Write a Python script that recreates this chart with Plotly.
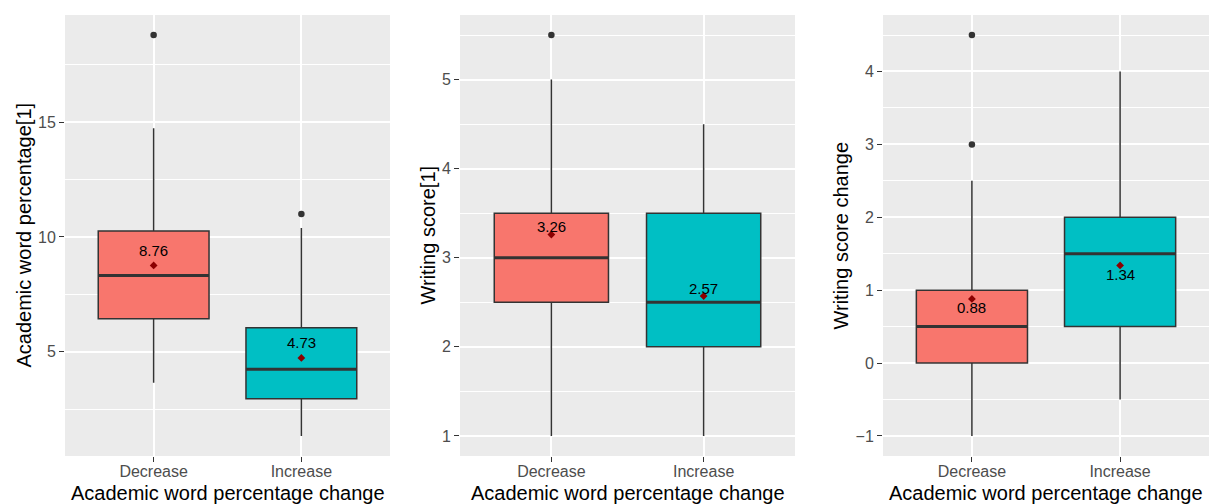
import plotly.graph_objects as go

# Groups on the x axis (shared by all three panels)
groups = ["Decrease", "Increase"]
fill_colors = ["#F8766D", "#00BFC4"]

# Panel 1: Academic word percentage[1]
awp_q1 = [6.44, 2.95]
awp_median = [8.32, 4.24]
awp_q3 = [10.26, 6.05]
awp_lower = [3.65, 1.33]
awp_upper = [14.74, 10.39]
awp_mean = [8.76, 4.73]
awp_outliers = [[18.8], [11.0]]

# Panel 2: Writing score[1]
ws_q1 = [2.5, 2.0]
ws_median = [3.0, 2.5]
ws_q3 = [3.5, 3.5]
ws_lower = [1.0, 1.0]
ws_upper = [5.0, 4.5]
ws_mean = [3.26, 2.57]
ws_outliers = [[5.5], []]

# Panel 3: Writing score change
wc_q1 = [0.0, 0.5]
wc_median = [0.5, 1.5]
wc_q3 = [1.0, 2.0]
wc_lower = [-1.0, -0.5]
wc_upper = [2.5, 4.0]
wc_mean = [0.88, 1.34]
wc_outliers = [[3.0, 4.5], []]

panels = [
    dict(q1=awp_q1, med=awp_median, q3=awp_q3, lo=awp_lower, hi=awp_upper,
         mean=awp_mean, out=awp_outliers, ytitle="Academic word percentage[1]",
         dtick=5, minor=2.5, label_shift=15),
    dict(q1=ws_q1, med=ws_median, q3=ws_q3, lo=ws_lower, hi=ws_upper,
         mean=ws_mean, out=ws_outliers, ytitle="Writing score[1]",
         dtick=1, minor=0.5, label_shift=8),
    dict(q1=wc_q1, med=wc_median, q3=wc_q3, lo=wc_lower, hi=wc_upper,
         mean=wc_mean, out=wc_outliers, ytitle="Writing score change",
         dtick=1, minor=0.5, label_shift=-9),
]

W, H = 1209, 504
x_domains = [(65, 390), (460, 795), (883, 1209)]
y_top, y_bottom = 15, 456
ytitle_x = [23, 427, 840]

BOX_W = 0.75
EDGE = "#333333"
FONT = "Liberation Sans, Arial, Helvetica, sans-serif"

fig = go.Figure()
annotations = []

for p_i, p in enumerate(panels):
    sfx = "" if p_i == 0 else str(p_i + 1)
    xa, ya = "x" + sfx, "y" + sfx
    positions = [1, 2]

    for g_i, g in enumerate(groups):
        xpos = positions[g_i]
        fig.add_trace(go.Box(
            x=[xpos], q1=[p["q1"][g_i]], median=[p["med"][g_i]], q3=[p["q3"][g_i]],
            lowerfence=[p["lo"][g_i]], upperfence=[p["hi"][g_i]],
            width=BOX_W, whiskerwidth=0, boxpoints=False,
            fillcolor=fill_colors[g_i], line=dict(color=EDGE, width=1.5),
            name=g, showlegend=False, xaxis=xa, yaxis=ya, hoverinfo="skip",
        ))
        # thicker median bar
        fig.add_trace(go.Scatter(
            x=[xpos - BOX_W / 2, xpos + BOX_W / 2], y=[p["med"][g_i]] * 2,
            mode="lines", line=dict(color=EDGE, width=3),
            showlegend=False, xaxis=xa, yaxis=ya, hoverinfo="skip",
        ))
        # outliers
        if p["out"][g_i]:
            fig.add_trace(go.Scatter(
                x=[xpos] * len(p["out"][g_i]), y=p["out"][g_i], mode="markers",
                marker=dict(color=EDGE, size=6.5, symbol="circle"),
                showlegend=False, xaxis=xa, yaxis=ya, hoverinfo="skip",
            ))
        # group mean
        fig.add_trace(go.Scatter(
            x=[xpos], y=[p["mean"][g_i]], mode="markers",
            marker=dict(color="#8B0000", size=6, symbol="diamond"),
            showlegend=False, xaxis=xa, yaxis=ya, hoverinfo="skip",
        ))
        annotations.append(dict(
            x=xpos, y=p["mean"][g_i], xref=xa, yref=ya,
            text=f"{p['mean'][g_i]:.2f}", showarrow=False,
            yshift=p["label_shift"], font=dict(family=FONT, size=15, color="black"),
        ))

    # y range: data extent padded by 5 %
    all_vals = p["lo"] + p["hi"] + [v for o in p["out"] for v in o]
    lo, hi = min(all_vals), max(all_vals)
    pad = (hi - lo) * 0.05

    x0, x1 = x_domains[p_i]
    axis_common = dict(
        showgrid=True, gridcolor="white", gridwidth=1.5, zeroline=False,
        ticks="outside", ticklen=5, tickwidth=1.2, tickcolor=EDGE,
        tickfont=dict(family=FONT, size=16, color="#4D4D4D"),
        showline=False,
    )
    fig.update_layout(**{
        "xaxis" + sfx: dict(
            domain=[x0 / W, x1 / W], anchor=ya, range=[0.4, 2.6],
            tickvals=positions, ticktext=groups, ticklabelstandoff=-4,
            **axis_common,
        ),
        "yaxis" + sfx: dict(
            domain=[(H - y_bottom) / H, (H - y_top) / H], anchor=xa,
            range=[lo - pad, hi + pad], dtick=p["dtick"], tick0=0,
            minor=dict(dtick=p["minor"], tick0=0, showgrid=True,
                       gridcolor="white", gridwidth=0.7),
            **axis_common,
        ),
    })

    # axis titles
    annotations.append(dict(
        x=(x0 + x1) / 2 / W, y=(H - 493) / H, xref="paper", yref="paper",
        text="Academic word percentage change", showarrow=False,
        font=dict(family=FONT, size=20, color="black"),
        xanchor="center", yanchor="middle",
    ))
    annotations.append(dict(
        x=ytitle_x[p_i] / W, y=(H - (y_top + y_bottom) / 2) / H,
        xref="paper", yref="paper", text=p["ytitle"], showarrow=False,
        textangle=-90, font=dict(family=FONT, size=20, color="black"),
        xanchor="center", yanchor="middle",
    ))

fig.update_layout(
    width=W, height=H,
    margin=dict(l=0, r=0, t=0, b=0),
    paper_bgcolor="white", plot_bgcolor="#EBEBEB",
    annotations=annotations, showlegend=False,
)

fig.write_html("out.html")
